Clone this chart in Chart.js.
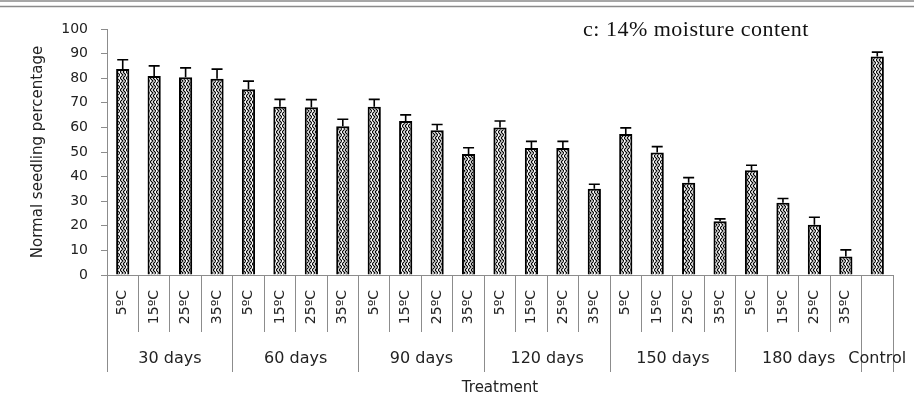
<!DOCTYPE html>
<html><head><meta charset="utf-8">
<script src="https://cdn.jsdelivr.net/npm/chart.js@4/dist/chart.umd.min.js"></script>
<style>html,body{margin:0;padding:0;background:#fff}#wrap{width:914px;height:410px;position:relative}</style>
</head><body><div id="wrap"><canvas id="c" width="914" height="410"></canvas></div>
<script>
// ---- data ----
const categories = ['5ºC','15ºC','25ºC','35ºC','5ºC','15ºC','25ºC','35ºC','5ºC','15ºC','25ºC','35ºC',
  '5ºC','15ºC','25ºC','35ºC','5ºC','15ºC','25ºC','35ºC','5ºC','15ºC','25ºC','35ºC',''];
const storageGroups = ['30 days','60 days','90 days','120 days','150 days','180 days','Control'];
const groupSizes = [4,4,4,4,4,4,1];
const seedlingPct = [83.7,80.9,80.4,79.8, 75.5,68.4,68.2,60.5, 68.4,62.6,58.8,49.2,
  60.0,51.6,51.6,35.1, 57.3,49.8,37.5,21.8, 42.6,29.4,20.4,7.5, 88.8];
const seedlingErr = [3.8,4.1,3.8,3.9, 3.3,3.0,3.1,2.8, 3.0,2.5,2.4,2.5,
  2.6,2.7,2.7,1.8, 2.5,2.4,2.1,1.0, 2.0,1.7,3.1,2.7, 1.8];
const yTicks = {min:0, max:100, step:10};
const chartTitle = 'c: 14% moisture content';

// group boundaries / centres in category units
const bounds = [0]; groupSizes.forEach(s => bounds.push(bounds[bounds.length-1] + s));
const centres = groupSizes.map((s,i) => bounds[i] + s/2);
const x2Ticks = [...bounds, ...centres].sort((a,b)=>a-b);

// zigzag fill pattern
function makePattern(){
  const t = document.createElement('canvas'); t.width = 6; t.height = 6;
  const g = t.getContext('2d');
  g.fillStyle = '#fff'; g.fillRect(0,0,6,6);
  g.strokeStyle = '#000'; g.lineWidth = 1.1;
  g.beginPath();
  g.moveTo(0,0); g.lineTo(3,3); g.lineTo(0,6);
  g.moveTo(3,0); g.lineTo(6,3); g.lineTo(3,6);
  g.stroke();
  return document.getElementById('c').getContext('2d').createPattern(t,'repeat');
}

const errorBars = {
  id:'errorBars',
  afterDatasetsDraw(chart){
    const meta = chart.getDatasetMeta(0), ys = chart.scales.y, c = chart.ctx;
    c.save(); c.strokeStyle = '#000'; c.lineWidth = 1.6;
    meta.data.forEach((bar,i) => {
      const v = seedlingPct[i], e = seedlingErr[i];
      const yT = ys.getPixelForValue(v+e), yB = ys.getPixelForValue(v);
      c.beginPath();
      c.moveTo(bar.x, yB); c.lineTo(bar.x, yT);
      c.moveTo(bar.x-5.5, yT); c.lineTo(bar.x+5.5, yT);
      c.stroke();
    });
    c.restore();
  }
};

const decor = {
  id:'decor',
  beforeDraw(chart){
    const c = chart.ctx; c.save();
    c.fillStyle = '#fff'; c.fillRect(0,0,chart.width,chart.height);
    c.restore();
  },
  afterDraw(chart){
    const c = chart.ctx; c.save();
    c.strokeStyle = '#8a8a8a'; c.lineWidth = 1.5;
    c.beginPath(); c.moveTo(0,1); c.lineTo(chart.width,1);
    c.moveTo(0,6.5); c.lineTo(chart.width,6.5); c.stroke();
    c.fillStyle = '#111'; c.font = '22px "Liberation Serif"';
    try { c.letterSpacing = '0.5px'; } catch(e) {}
    c.textBaseline = 'alphabetic'; c.textAlign = 'left';
    c.fillText(chartTitle, 583, 36);
    c.restore();
  }
};

const txt = '#222', axisCol = '#8c8c8c';
new Chart(document.getElementById('c'), {
  type:'bar',
  data:{labels:categories, datasets:[{data:seedlingPct, backgroundColor:makePattern(),
    borderColor:'#000', borderWidth:2, borderSkipped:'bottom', barPercentage:0.42, categoryPercentage:1}]},
  options:{
    responsive:false, animation:false, devicePixelRatio:1,
    layout:{padding:{top:29,right:21,bottom:8,left:0}},
    plugins:{legend:{display:false}, tooltip:{enabled:false}, title:{display:false}},
    scales:{
      y:{min:yTicks.min, max:yTicks.max,
        ticks:{stepSize:yTicks.step, font:{family:'DejaVu Sans',size:14}, color:txt, padding:13},
        grid:{drawOnChartArea:false, tickLength:6, color:axisCol},
        border:{color:axisCol},
        title:{display:true, text:'Normal seedling percentage', font:{family:'DejaVu Sans',size:15}, color:txt, padding:{top:29,bottom:0}},
        afterFit(s){ s.width = 107; }
      },
      x:{offset:true,
        grid:{offset:true, drawOnChartArea:false, tickLength:57, color:axisCol},
        border:{color:axisCol},
        ticks:{autoSkip:false, minRotation:90, maxRotation:90, padding:-42, font:{family:'DejaVu Sans',size:14}, color:txt},
        afterFit(s){ s.height = 57; }
      },
      x2:{type:'linear', position:'bottom', min:0, max:bounds[bounds.length-1], offset:false,
        grid:{offset:false, drawOnChartArea:false, tickLength:40,
          color:(ctx)=> (ctx.tick && bounds.includes(ctx.tick.value)) ? axisCol : 'rgba(0,0,0,0)'},
        border:{display:false},
        ticks:{autoSkip:false, maxRotation:0, minRotation:0, padding:-23, font:{family:'DejaVu Sans',size:16}, color:txt,
          callback:(v)=>{ const i = centres.indexOf(v); return i>=0 ? storageGroups[i] : ''; }},
        afterBuildTicks(s){ s.ticks = x2Ticks.map(v=>({value:v})); },
        title:{display:true, text:'Treatment', font:{family:'DejaVu Sans',size:15}, color:txt, padding:{top:0,bottom:5}},
        afterFit(s){ s.height = 70; }
      }
    }
  },
  plugins:[decor, errorBars]
});
</script></body></html>
